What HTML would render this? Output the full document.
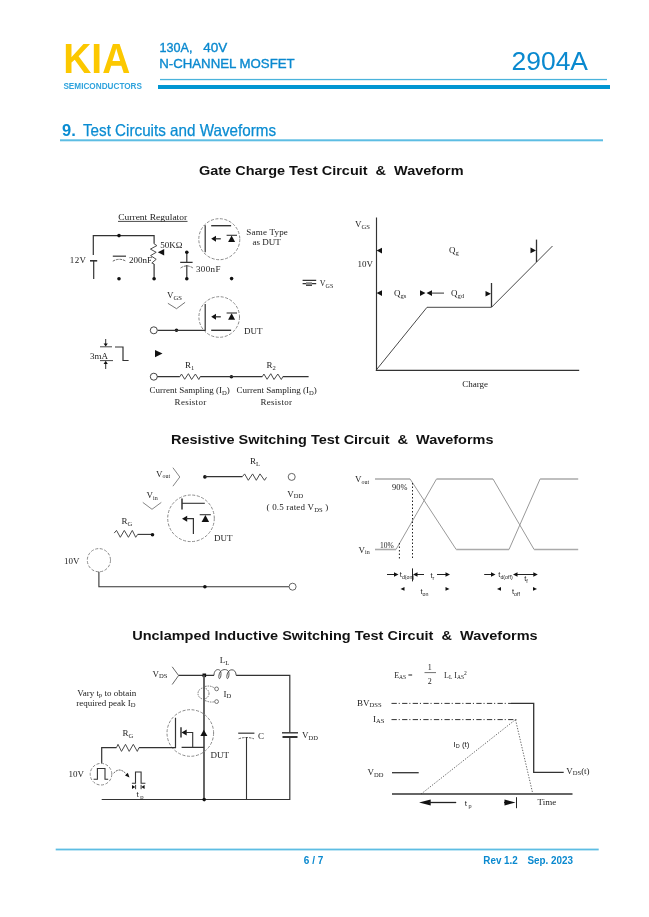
<!DOCTYPE html>
<html><head><meta charset="utf-8">
<style>
html,body{margin:0;padding:0;background:#fff;}
body{width:649px;height:917px;overflow:hidden;position:relative;}
svg{position:absolute;left:0;top:0;will-change:transform;}
.sa{font-family:"Liberation Sans",sans-serif;}
.se{font-family:"Liberation Serif",serif;}
.h{font-family:"Liberation Sans",sans-serif;font-weight:bold;font-size:13.3px;fill:#111;}
.t{font-family:"Liberation Serif",serif;fill:#222;}
.sub{font-size:6px;}
.w{fill:none;stroke:#333;stroke-width:1.2;}
.g{fill:none;stroke:#666;stroke-width:1.6;}
.dc{fill:none;stroke:#8a8a8a;stroke-width:1;stroke-dasharray:3 1.6;}
.k{fill:#111;}
</style></head>
<body>
<svg width="649" height="917" viewBox="0 0 649 917">
<!-- ===== HEADER ===== -->
<text transform="translate(63.3,72.7) scale(0.925,1)" x="0" y="0" class="sa" font-weight="bold" font-size="42" fill="#FCC800">KIA</text>
<text x="63.4" y="88.7" class="sa" font-weight="bold" font-size="8.2" fill="#2FA3DD" textLength="78.6" lengthAdjust="spacing">SEMICONDUCTORS</text>
<text x="159.6" y="51.6" class="sa" font-size="12.6" fill="#0A89CF" stroke="#0A89CF" stroke-width="0.35">130A,</text><text x="203.3" y="51.6" class="sa" font-size="12.6" fill="#0A89CF" stroke="#0A89CF" stroke-width="0.35" textLength="24" lengthAdjust="spacingAndGlyphs">40V</text>
<text x="159.2" y="68.2" class="sa" font-size="12.6" fill="#0A89CF" stroke="#0A89CF" stroke-width="0.35" textLength="135.5" lengthAdjust="spacingAndGlyphs">N-CHANNEL MOSFET</text>
<text x="511.5" y="69.6" class="sa" font-size="26.2" fill="#0A89CF" textLength="76.5" lengthAdjust="spacingAndGlyphs">2904A</text>
<rect x="160" y="78.9" width="447" height="1.3" fill="#4AB3DB"/>
<rect x="158" y="85" width="452" height="4" fill="#0096D2"/>
<!-- section title -->
<text x="62" y="135.6" class="sa" font-weight="bold" font-size="16.5" fill="#0A8CD2">9.</text>
<text x="83" y="135.6" class="sa" font-size="16.5" fill="#0A8CD2" stroke="#0A8CD2" stroke-width="0.25" textLength="193" lengthAdjust="spacingAndGlyphs">Test Circuits and Waveforms</text>
<rect x="60" y="139.3" width="543" height="2" fill="#5DBDE3"/>

<!-- ===== GATE CHARGE ===== -->
<text x="199" y="175.4" class="h" style="white-space:pre" textLength="264.5" lengthAdjust="spacingAndGlyphs">Gate Charge Test Circuit  &amp;  Waveform</text>

<!-- circuit -->
<text x="118.2" y="219.6" class="t" font-size="8.5" textLength="69" lengthAdjust="spacingAndGlyphs">Current Regulator</text>
<line x1="118" y1="221.4" x2="187.5" y2="221.4" stroke="#333" stroke-width="0.9"/>
<path class="w" d="M93.3,255 V235.6 H154.1 V243.8"/>
<path class="w" d="M154.1,263.9 V278.8"/><path fill="none" stroke="#4a4a4a" stroke-width="1" d="M154.1,243.8 L156.9,245.6 L150.4,249.1 L156.2,252.3 L150.6,255.6 L156.2,259.3 L151.8,263 L154.1,263.9"/>
<path d="M90,260.8 H97.2" stroke="#333" stroke-width="1.6"/>
<path class="w" d="M93.7,260.8 V279"/>
<text x="69.8" y="263.2" class="t" font-size="9" letter-spacing="0.4">12V</text>
<path d="M112.8,256.2 H126" stroke="#444" stroke-width="1.3"/>
<path d="M112.8,261.2 Q119.4,257.4 126,261.2" fill="none" stroke="#555" stroke-width="0.9" stroke-dasharray="2.5 1"/>
<text x="129" y="263.2" class="t" font-size="9">200nF</text>
<path d="M157.8,252.3 L164.2,249 L164.2,255.6 Z" class="k"/>
<text x="160.2" y="248.3" class="t" font-size="9">50KΩ</text>
<!-- 300nF cap -->
<path class="w" d="M186.8,252.2 V262.4 M180.2,262.4 H192.6 M186.8,265 V278.8"/>
<path d="M180.6,268 Q186.8,263.8 193,268" fill="none" stroke="#555" stroke-width="0.9" stroke-dasharray="2.5 1"/>
<text x="196" y="271.6" class="t" font-size="9" letter-spacing="0.35">300nF</text>
<!-- dots -->
<g class="k">
<circle cx="119" cy="235.6" r="1.8"/><circle cx="119" cy="278.8" r="1.8"/>
<circle cx="154.1" cy="278.8" r="1.8"/><circle cx="186.8" cy="252.2" r="1.8"/>
<circle cx="186.8" cy="278.8" r="1.8"/><circle cx="231.6" cy="278.6" r="1.8"/>
<circle cx="176.5" cy="330.3" r="1.8"/><circle cx="231.4" cy="376.7" r="1.8"/>
</g>
<!-- Same type mosfet -->
<circle cx="219.3" cy="239.2" r="20.5" class="dc"/>
<path class="w" d="M205.2,225.3 V252.3"/>
<path d="M211.2,225.7 H231.1" stroke="#333" stroke-width="1.4"/>
<path d="M211.2,238.8 L216,235.8 L216,241.8 Z" class="k"/>
<path d="M215,238.8 H220.8" stroke="#333" stroke-width="1.3"/>
<path d="M226.6,235.3 H237" stroke="#333" stroke-width="1.1"/>
<path d="M231.6,235.5 L228.1,241.9 L235.1,241.9 Z" class="k"/>
<text x="246.3" y="234.6" class="t" font-size="9" letter-spacing="0.2">Same Type</text>
<text x="252.6" y="244.6" class="t" font-size="9">as DUT</text>
<!-- VGS ground -->
<path d="M302.6,280.3 H316.2 M302.6,283.6 H316.2" stroke="#333" stroke-width="1.2"/><rect x="306" y="282.2" width="6" height="2.6" fill="#888"/><path d="M306,285.4 H312" stroke="#333" stroke-width="1"/>
<text x="319.8" y="285.5" class="t" font-size="8">V<tspan font-size="6" dy="2">GS</tspan></text>
<!-- VGS arrow -->
<text x="167" y="298" class="t" font-size="9">V<tspan font-size="6.6" dy="1.5">GS</tspan></text>
<path d="M167.9,303.3 L176.5,308.7 L185.1,302.3" fill="none" stroke="#666" stroke-width="0.9"/>
<!-- DUT -->
<circle cx="219.2" cy="317" r="20.3" class="dc"/>
<path class="w" d="M157.5,330.3 H205.2 V303.9"/>
<circle cx="153.8" cy="330.3" r="3.5" fill="#fff" stroke="#444" stroke-width="1"/>
<path d="M211.2,330.3 H231.1" stroke="#333" stroke-width="1.4"/>
<path d="M211.2,316.8 L216,313.8 L216,319.8 Z" class="k"/>
<path d="M215,316.8 H220.8" stroke="#333" stroke-width="1.3"/>
<path d="M226.6,313 H237" stroke="#333" stroke-width="1.1"/>
<path d="M231.6,313.2 L228.1,319.7 L235.1,319.7 Z" class="k"/>
<text x="244" y="334.4" class="t" font-size="9">DUT</text>
<!-- 3mA pulse -->
<path d="M105.7,339 V345" stroke="#333" stroke-width="1"/>
<path d="M103.6,343.5 L105.7,346.6 L107.8,343.5 Z" class="k"/>
<path d="M100,346.8 H112" stroke="#333" stroke-width="0.9"/>
<path class="w" d="M115,347 H123 V360.5 H128.6"/>
<path d="M100,360.6 H113" stroke="#333" stroke-width="0.9"/>
<path d="M105.7,363 V369" stroke="#333" stroke-width="1"/>
<path d="M103.6,364 L105.7,360.8 L107.8,364 Z" class="k"/>
<text x="90" y="358.5" class="t" font-size="9">3mA</text>
<path d="M155,350 L162.5,353.6 L155,357.2 Z" class="k"/>
<!-- bottom sampling resistors -->
<circle cx="153.8" cy="376.7" r="3.5" fill="#fff" stroke="#444" stroke-width="1"/>
<path class="w" d="M157.3,376.7 H179.9 M200.2,376.7 H262.3 M282.8,376.7 H308.6"/><path fill="none" stroke="#4a4a4a" stroke-width="1" d="M179.9,376.7 L181.5,374 L184.7,379.3 L188.4,373.7 L191.6,379.5 L195.4,374 L198.8,379.5 L200.2,376.7"/><path fill="none" stroke="#4a4a4a" stroke-width="1" d="M262.3,376.7 L263.9,374 L267.1,379.3 L270.8,373.7 L274,379.5 L277.8,374 L281.3,379.5 L282.8,376.7"/>
<text x="185" y="368" class="t" font-size="9">R<tspan font-size="6.6" dy="1.5">1</tspan></text>
<text x="266.5" y="368.4" class="t" font-size="9">R<tspan font-size="6.6" dy="1.5">2</tspan></text>
<text x="149.5" y="393.4" class="t" font-size="9">Current Sampling (I<tspan font-size="6.6" dy="1.5">D</tspan><tspan dy="-1.5">)</tspan></text>
<text x="174.6" y="404.6" class="t" font-size="9" letter-spacing="0.3">Resistor</text>
<text x="236.4" y="393.4" class="t" font-size="9">Current Sampling (I<tspan font-size="6.6" dy="1.5">D</tspan><tspan dy="-1.5">)</tspan></text>
<text x="260.4" y="404.6" class="t" font-size="9" letter-spacing="0.3">Resistor</text>

<!-- gate charge waveform -->
<path d="M376.5,217.6 V370.3 H579.2" fill="none" stroke="#333" stroke-width="1.15"/>
<path d="M376,370.3 L427,307.3 H491.5 L552.5,246" fill="none" stroke="#333" stroke-width="0.9"/>
<text x="355" y="227" class="t" font-size="9">V<tspan font-size="6.6" dy="1.8">GS</tspan></text>
<text x="357.5" y="267" class="t" font-size="9">10V</text>
<path d="M376.6,250.6 L382,247.8 L382,253.4 Z" class="k"/>
<text x="449" y="253.2" class="t" font-size="9">Q<tspan font-size="6.6" dy="1.8">g</tspan></text>
<path d="M376.6,293.1 L382,290.3 L382,295.9 Z" class="k"/>
<text x="394" y="296.2" class="t" font-size="9">Q<tspan font-size="6.6" dy="1.8">gs</tspan></text>
<path d="M425.5,293.1 L420,290.3 L420,295.9 Z" class="k"/>
<path d="M426.5,293.1 L432,290.3 L432,295.9 Z" class="k"/>
<path d="M431,293.1 H444" stroke="#333" stroke-width="1"/>
<text x="451" y="296.2" class="t" font-size="9">Q<tspan font-size="6.6" dy="1.8">gd</tspan></text>
<path d="M491.5,283 V307" stroke="#333" stroke-width="1.3"/>
<path d="M491,293.7 L485.5,290.9 L485.5,296.5 Z" class="k"/>
<path d="M536.5,239.6 V262" stroke="#333" stroke-width="1.3"/>
<path d="M536,250.4 L530.5,247.6 L530.5,253.2 Z" class="k"/>
<text x="462.2" y="386.5" class="t" font-size="9">Charge</text>

<!-- ===== RESISTIVE SWITCHING ===== -->
<text x="171" y="443.9" class="h" style="white-space:pre" textLength="322.5" lengthAdjust="spacingAndGlyphs">Resistive Switching Test Circuit  &amp;  Waveforms</text>
<!-- circuit -->
<text x="156" y="476.5" class="t" font-size="9">V<tspan font-size="6" dy="1.5">out</tspan></text>
<path d="M172.9,467.7 L179.8,477 L172.9,486.2" fill="none" stroke="#777" stroke-width="0.9"/>
<text x="146.5" y="498" class="t" font-size="9">V<tspan font-size="6" dy="1.5">in</tspan></text>
<path d="M142.8,502.4 L152,509.3 L161.3,502.4" fill="none" stroke="#777" stroke-width="0.9"/>
<text x="121.5" y="524.4" class="t" font-size="9">R<tspan font-size="6.6" dy="1.5">G</tspan></text>
<path d="M137.7,534.4 H152.5" fill="none" stroke="#333" stroke-width="1.1"/><path fill="none" stroke="#4a4a4a" stroke-width="1" d="M114.2,533.1 L116.5,530.4 L120.3,537.3 L124.3,530.4 L128.4,537.3 L132.3,530.4 L135.7,537.3 L137.7,534.4"/>
<circle cx="152.5" cy="534.7" r="1.8" class="k"/>
<circle cx="204.9" cy="476.9" r="1.8" class="k"/>
<path d="M204.9,476.6 H242.4" fill="none" stroke="#333" stroke-width="1.2"/><path fill="none" stroke="#4a4a4a" stroke-width="1" d="M242.4,476.6 L244.6,473.9 L248.3,480.3 L252.6,473.9 L256.3,480.3 L260,473.9 L264.5,480.3 L266.5,477.3"/>
<text x="250" y="464.2" class="t" font-size="9">R<tspan font-size="6.6" dy="1.5">L</tspan></text>
<circle cx="291.7" cy="476.9" r="3.5" fill="#fff" stroke="#555" stroke-width="0.9"/>
<text x="287.3" y="496.5" class="t" font-size="9">V<tspan font-size="6.5" dy="1.5">DD</tspan></text>
<text x="266.6" y="510.2" class="t" font-size="9" letter-spacing="0.17">( 0.5 rated V<tspan font-size="6.6" dy="1.5">DS</tspan><tspan dy="-1.5"> )</tspan></text>
<!-- mosfet -->
<circle cx="191" cy="518.3" r="23.3" class="dc"/>
<path d="M182,498.6 V509.4" stroke="#555" stroke-width="1.8"/>
<path d="M182,503.3 H204.8" stroke="#333" stroke-width="1.1"/>
<path d="M182,518.7 L187.2,515.7 L187.2,521.7 Z" class="k"/>
<path d="M186,518.7 H193.4 V534" fill="none" stroke="#333" stroke-width="1.2"/>
<path d="M199.7,514.7 H210.8" stroke="#333" stroke-width="1.1"/>
<path d="M205.4,514.9 L201.6,522.1 L209.1,522.1 Z" class="k"/>
<text x="214" y="541.2" class="t" font-size="9">DUT</text>
<!-- source -->
<text x="64" y="563.8" class="t" font-size="9">10V</text>
<circle cx="98.9" cy="560.2" r="11.6" class="dc"/>
<path d="M98.9,571.8 V586.7 H289" fill="none" stroke="#333" stroke-width="1.1"/>
<circle cx="204.9" cy="586.7" r="1.8" class="k"/>
<circle cx="292.6" cy="586.7" r="3.5" fill="#fff" stroke="#555" stroke-width="0.9"/>
<!-- waveform -->
<g fill="none" stroke="#aaa">
<path d="M375,479 H410.1" stroke-width="1.6"/>
<path d="M410.1,479 L456.2,549.5" stroke-width="1" stroke="#999"/>
<path d="M456.2,549.5 H509" stroke-width="1.6"/>
<path d="M509,549.5 L540.1,479" stroke-width="1" stroke="#999"/>
<path d="M540.1,479 H578.2" stroke-width="1.6"/>
<path d="M375,549.5 H396" stroke-width="1.6"/>
<path d="M396,549.5 L436.5,479" stroke-width="1" stroke="#999"/>
<path d="M436.5,479 H493" stroke-width="1.6"/>
<path d="M493,479 L534.1,549.5" stroke-width="1" stroke="#999"/>
<path d="M534.1,549.5 H578.2" stroke-width="1.6"/>
</g>
<text x="355" y="482" class="t" font-size="9">V<tspan font-size="6" dy="1.5">out</tspan></text>
<text x="358.6" y="552.5" class="t" font-size="9">V<tspan font-size="6" dy="1.5">in</tspan></text>
<text x="392" y="489.6" class="t" font-size="8.4">90%</text>
<text x="380" y="548" class="t" font-size="7.5">10%</text>
<path d="M399.4,543 V559 M412.5,483 V559" stroke="#222" stroke-width="1" stroke-dasharray="1.5 2"/>
<!-- timing arrows -->
<g stroke="#222" stroke-width="1">
<path d="M387,574.5 H396"/>
<path d="M412.5,568.4 V581.4"/>
<path d="M416,574.5 H424"/>
<path d="M437,574.5 H447"/>
<path d="M484.2,574.5 H493"/>
<path d="M516,574.5 H535"/>
</g>
<g class="k">
<path d="M398.5,574.5 L394,572.3 L394,576.7 Z"/>
<path d="M413,574.5 L417.5,572.3 L417.5,576.7 Z"/>
<path d="M450,574.5 L445.5,572.3 L445.5,576.7 Z"/>
<path d="M495.5,574.5 L491,572.3 L491,576.7 Z"/>
<path d="M513,574.5 L517.5,572.3 L517.5,576.7 Z"/>
<path d="M537.8,574.5 L533.3,572.3 L533.3,576.7 Z"/>
<path d="M400.5,588.9 L404.5,587 L404.5,590.8 Z"/>
<path d="M449.5,588.9 L445.5,587 L445.5,590.8 Z"/>
<path d="M497,588.9 L501,587 L501,590.8 Z"/>
<path d="M537,588.9 L533,587 L533,590.8 Z"/>
</g>
<text x="399.8" y="577" class="sa" font-size="7.5" fill="#222">t<tspan font-size="5.3" dy="2">d(on)</tspan></text>
<text x="430.5" y="577.5" class="sa" font-size="7.5" fill="#222">t<tspan font-size="5.3" dy="2">r</tspan></text>
<text x="420.5" y="594" class="sa" font-size="7.5" fill="#222">t<tspan font-size="5.3" dy="2">on</tspan></text>
<text x="498.3" y="577" class="sa" font-size="7.5" fill="#222">t<tspan font-size="5.3" dy="2">d(off)</tspan></text>
<text x="524.2" y="581" class="sa" font-size="7.5" fill="#222">t<tspan font-size="5.3" dy="2">f</tspan></text>
<text x="512" y="594" class="sa" font-size="7.5" fill="#222">t<tspan font-size="5.3" dy="2">off</tspan></text>

<!-- ===== UIS ===== -->
<text x="132.2" y="639.8" class="h" style="white-space:pre" textLength="405.5" lengthAdjust="spacingAndGlyphs">Unclamped Inductive Switching Test Circuit  &amp;  Waveforms</text>
<!-- circuit -->
<text x="152.5" y="676.5" class="t" font-size="9">V<tspan font-size="6.6" dy="1.5">DS</tspan></text>
<path d="M172.2,666.8 L178.6,675.5 L172.2,684.5" fill="none" stroke="#555" stroke-width="0.9"/>
<path d="M178.6,675.3 H214 M236.1,675.3 H289.8 V732.5 M289.8,737.5 V799.5 H101.7" fill="none" stroke="#333" stroke-width="1.2"/>
<path d="M214,675.3 C214,668 221,668 221,673.5 C221,680 218,680 219,675 C220,668 229,668 229,673.5 C229,680 226,680 227,675 C228,668 236.1,668 236.1,675.3" fill="none" stroke="#444" stroke-width="0.9"/>
<text x="219.7" y="663.4" class="t" font-size="9">L<tspan font-size="6.6" dy="1.5">L</tspan></text>
<rect x="202.5" y="673.5" width="3.6" height="3.6" class="k"/>
<path d="M204,675.3 V799.5" stroke="#555" stroke-width="1.8"/>
<circle cx="203.5" cy="693.5" r="5.5" fill="none" stroke="#555" stroke-width="0.8" stroke-dasharray="1.5 1"/>
<path d="M205,686.5 Q211,685 215,688.5 M205,700.5 Q211,703 215,701.5" fill="none" stroke="#555" stroke-width="0.8" stroke-dasharray="1.5 1"/>
<circle cx="216.6" cy="688.9" r="1.9" fill="none" stroke="#555" stroke-width="0.8"/>
<circle cx="216.6" cy="701.6" r="1.9" fill="none" stroke="#555" stroke-width="0.8"/>
<text x="223.4" y="696.5" class="t" font-size="9">I<tspan font-size="6.6" dy="1.5">D</tspan></text>
<text x="77.3" y="695.8" class="t" font-size="9">Vary t<tspan font-size="6.6" dy="1.5">p</tspan><tspan dy="-1.5"> to obtain</tspan></text>
<text x="76.2" y="705.5" class="t" font-size="9">required peak I<tspan font-size="6.6" dy="1.5">D</tspan></text>
<!-- mosfet -->
<circle cx="190.3" cy="733" r="23.3" class="dc"/>
<path d="M101.7,763 V747.6 H116.5 M139,747.6 H175.5 V717.7" fill="none" stroke="#333" stroke-width="1.2"/><path fill="none" stroke="#4a4a4a" stroke-width="1" d="M116.5,747.6 L118,744.3 L121.5,751.4 L125.5,744.3 L129.2,751.4 L133.3,744.3 L137.3,751.4 L139,747.6"/>
<path d="M181,727.2 V737.6" stroke="#555" stroke-width="1.8"/>
<path d="M181.5,732.5 L186.7,729.5 L186.7,735.5 Z" class="k"/>
<path d="M185.5,732.5 H192.7 V747.4 M181.6,747.4 H204" fill="none" stroke="#333" stroke-width="1.1"/>
<path d="M203.8,729.8 L200.3,735.9 L207.4,735.9 Z" class="k"/>
<text x="210.4" y="758" class="t" font-size="9">DUT</text>
<text x="122.6" y="736" class="t" font-size="9">R<tspan font-size="6.6" dy="1.5">G</tspan></text>
<!-- capacitor C -->
<path d="M238.2,733.2 H254.4" stroke="#444" stroke-width="1.3"/>
<path d="M238.6,738.8 Q246.3,736.2 254,738.8" fill="none" stroke="#555" stroke-width="0.9" stroke-dasharray="2.5 1"/>
<path d="M246.5,737 V799.5" stroke="#333" stroke-width="1.1"/>
<text x="258" y="738.5" class="t" font-size="9">C</text>
<!-- VDD battery -->
<path d="M282,732.8 H298" stroke="#333" stroke-width="1.4"/>
<path d="M282.5,737 H297.5" stroke="#333" stroke-width="2"/>
<text x="302" y="738" class="t" font-size="9">V<tspan font-size="6.5" dy="1.5">DD</tspan></text>
<!-- pulse source -->
<circle cx="101" cy="774.2" r="10.8" class="dc"/>
<path d="M93.6,779.3 H97.4 V768.5 H105 V779.3 H108.2" fill="none" stroke="#333" stroke-width="1.1"/>
<text x="68.6" y="776.8" class="t" font-size="9">10V</text>
<path d="M113.6,773.3 Q120,766 127,775" fill="none" stroke="#444" stroke-width="0.9" stroke-dasharray="2 1"/>
<path d="M129.5,777.5 L125,775.6 L127.8,772.8 Z" class="k"/>
<path d="M131.9,783.3 H135.5 V772 H141.1 V783.3 H145.4" fill="none" stroke="#333" stroke-width="1.1"/>
<path d="M135.3,787 L132,785 L132,789 Z M141.3,787 L144.6,785 L144.6,789 Z" class="k"/>
<path d="M135.6,784.8 V789.2 M141.1,784.8 V789.2" stroke="#222" stroke-width="0.9"/>
<text x="136.4" y="796.9" class="sa" font-size="8" fill="#222">t<tspan font-size="6" dy="2"> p</tspan></text>
<circle cx="204.2" cy="799.6" r="1.8" class="k"/>

<!-- UIS waveform -->
<text x="394.2" y="677.5" class="t" font-size="8">E<tspan font-size="5.5" dy="1.3">AS</tspan><tspan dy="-1.3"> =</tspan></text>
<text x="427.8" y="670" class="t" font-size="8">1</text>
<path d="M424.5,672.6 H436" stroke="#333" stroke-width="0.7"/>
<text x="427.8" y="683.8" class="t" font-size="8">2</text>
<text x="444" y="677.5" class="t" font-size="8">L<tspan font-size="5.5" dy="1.3">L</tspan><tspan dy="-1.3"> I</tspan><tspan font-size="5.5" dy="1.3">AS</tspan><tspan font-size="5.5" dy="-4">2</tspan></text>
<text x="357" y="705.5" class="t" font-size="9">BV<tspan font-size="6.6" dy="1">DSS</tspan></text>
<text x="373" y="722" class="t" font-size="9">I<tspan font-size="6.6" dy="1.3">AS</tspan></text>
<path d="M391.5,703.4 H511" fill="none" stroke="#333" stroke-width="1" stroke-dasharray="5.3 1.9 1.1 2.3"/>
<path d="M511,703.4 H533.7 V772.3 H563.7" fill="none" stroke="#333" stroke-width="1.3"/>
<path d="M391.5,719.6 H517" fill="none" stroke="#333" stroke-width="1" stroke-dasharray="5.3 1.9 1.1 2.3"/>
<path d="M421.1,794 L515.5,719.6 L532.5,792.5" fill="none" stroke="#555" stroke-width="0.9" stroke-dasharray="1.3 1.5"/>
<text x="453.5" y="746.8" class="sa" font-size="8" fill="#222">I<tspan font-size="5.5" dy="1.5">D</tspan><tspan dy="-1.5"> (t)</tspan></text>
<text x="367.6" y="775" class="t" font-size="9">V<tspan font-size="6.5" dy="1.5">DD</tspan></text>
<path d="M392,772.7 H418.7" stroke="#333" stroke-width="1.3"/>
<text x="566.2" y="773.5" class="t" font-size="9">V<tspan font-size="6.6" dy="1.5">DS</tspan><tspan dy="-1.5">(t)</tspan></text>
<path d="M392,794 H572.5" stroke="#333" stroke-width="1.4"/>
<text x="537.5" y="805" class="t" font-size="9">Time</text>
<path d="M419.1,802.5 L430.7,799.6 L430.7,805.4 Z" class="k"/>
<path d="M429,802.5 H456.2" stroke="#222" stroke-width="1.3"/>
<text x="464.8" y="806" class="sa" font-size="8" fill="#222">t<tspan font-size="5.5" dy="2"> p</tspan></text>
<path d="M504,802.5 H510" stroke="#222" stroke-width="1.3"/>
<path d="M515.5,802.5 L504.5,799.6 L504.5,805.4 Z" class="k"/>
<path d="M516.5,797.2 V808.2" stroke="#222" stroke-width="1"/>

<!-- ===== FOOTER ===== -->
<rect x="55.7" y="848.6" width="543" height="1.8" fill="#5DBDE3"/>
<text x="303.8" y="863.6" class="sa" font-weight="bold" font-size="10" fill="#0A89CF">6 / 7</text>
<text x="483.3" y="863.6" class="sa" font-weight="bold" font-size="10" fill="#0A89CF" textLength="34.5" lengthAdjust="spacingAndGlyphs">Rev 1.2</text>
<text x="527.5" y="863.6" class="sa" font-weight="bold" font-size="10" fill="#0A89CF" textLength="45.6" lengthAdjust="spacingAndGlyphs">Sep. 2023</text>
</svg>
</body></html>
